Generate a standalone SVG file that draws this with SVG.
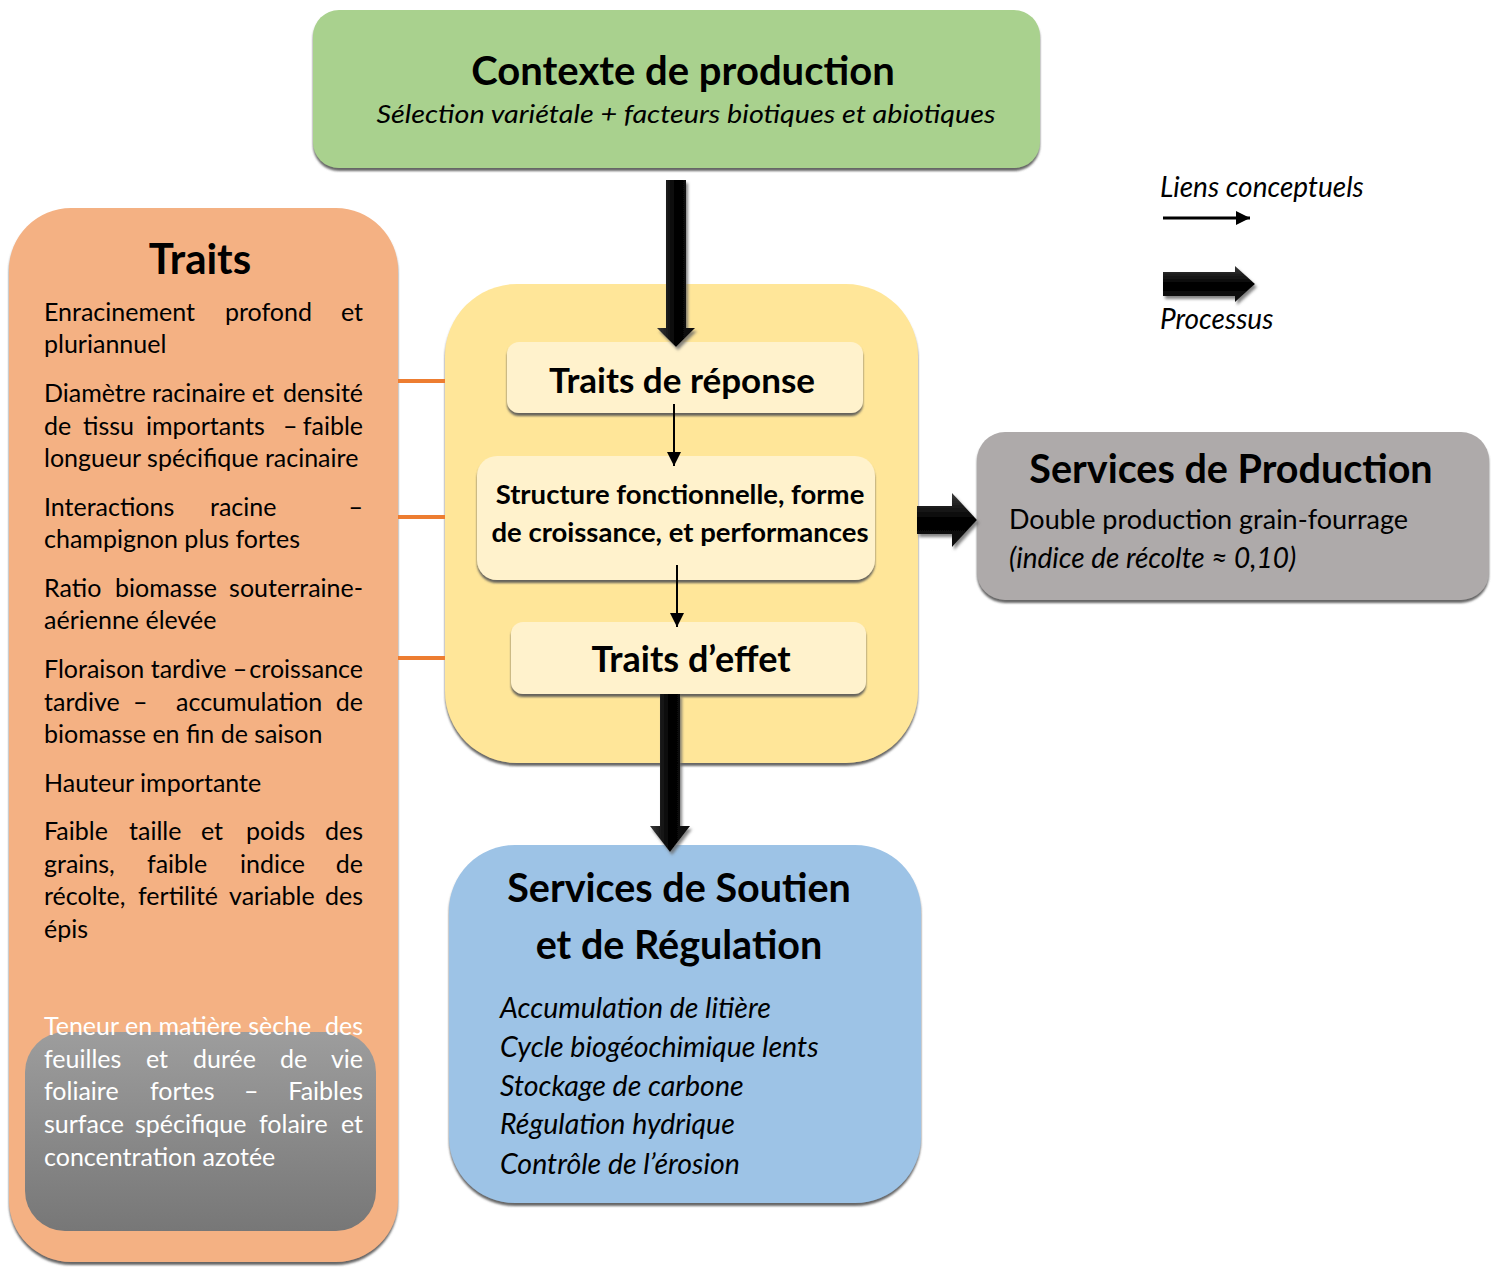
<svg xmlns="http://www.w3.org/2000/svg" width="1498" height="1267" viewBox="0 0 1498 1267">
<defs>
<filter id="sh" x="-10%" y="-10%" width="120%" height="120%">
<feDropShadow dx="0" dy="3" stdDeviation="1.2" flood-color="#555" flood-opacity="0.9"/>
</filter>
<filter id="ash" x="-30%" y="-10%" width="160%" height="130%">
<feDropShadow dx="2" dy="3" stdDeviation="1.5" flood-color="#666" flood-opacity="0.8"/>
</filter>
<linearGradient id="gv" x1="0" y1="0" x2="1" y2="0">
<stop offset="0" stop-color="#3a3a3a"/><stop offset="0.5" stop-color="#000"/><stop offset="1" stop-color="#111"/>
</linearGradient>
<linearGradient id="gh" x1="0" y1="0" x2="0" y2="1">
<stop offset="0" stop-color="#3a3a3a"/><stop offset="0.5" stop-color="#000"/><stop offset="1" stop-color="#111"/>
</linearGradient>
<linearGradient id="gray" x1="0" y1="0" x2="0" y2="1">
<stop offset="0" stop-color="#9d9d9d"/><stop offset="1" stop-color="#777"/>
</linearGradient>
<marker id="ah2" viewBox="0 0 10 10" refX="10" refY="5" markerWidth="14" markerHeight="14" markerUnits="userSpaceOnUse" orient="auto">
<path d="M0,0 L10,5 L0,10 z" fill="#000"/>
</marker>
</defs>
<style>
text{font-family:Lato,"Open Sans","Liberation Sans",sans-serif;fill:#000}
.b{font-weight:bold}
.i{font-style:italic}
.t{font-size:25px}
.w{fill:#fff}
.c{text-anchor:middle}
.e{text-anchor:end}
.inner{fill:#fff2cc}
</style>

<g id="contexte">
<rect x="313" y="10" width="727" height="158" rx="26" fill="#a9d18e" filter="url(#sh)"/>
<text x="683" y="85" class="b c" font-size="40">Contexte de production</text>
<text x="686" y="123" class="i c" font-size="26" textLength="619" lengthAdjust="spacingAndGlyphs">Sélection variétale + facteurs biotiques et abiotiques</text>
</g>

<g id="legende">
<text x="1160" y="197" class="i" font-size="28">Liens conceptuels</text>
<line x1="1163" y1="218" x2="1250" y2="218" stroke="#000" stroke-width="3" marker-end="url(#ah2)"/>
<path d="M1163,272 L1235,272 L1235,266 L1255,284 L1235,302 L1235,296 L1163,296 z" fill="url(#gh)" filter="url(#ash)"/>
<text x="1160" y="329" class="i" font-size="28">Processus</text>
</g>

<g id="traits">
<rect x="9" y="208" width="389" height="1054" rx="62" fill="#f4b183" filter="url(#sh)"/>
<rect x="25" y="1032" width="351" height="199" rx="40" fill="url(#gray)"/>
<text x="200" y="274" class="b c" font-size="42">Traits</text>
<g class="t">
<text y="321"><tspan x="44">Enracinement</tspan><tspan x="225">profond</tspan><tspan x="363" class="e">et</tspan></text>
<text x="44" y="353">pluriannuel</text>
<text y="402"><tspan x="44">Diamètre racinaire et</tspan><tspan x="363" class="e">densité</tspan></text>
<text y="435"><tspan x="44">de</tspan><tspan x="83">tissu</tspan><tspan x="146">importants</tspan><tspan x="283">–</tspan><tspan x="363" class="e">faible</tspan></text>
<text x="44" y="467">longueur spécifique racinaire</text>
<text y="516"><tspan x="44">Interactions</tspan><tspan x="210">racine</tspan><tspan x="363" class="e">–</tspan></text>
<text x="44" y="548">champignon plus fortes</text>
<text y="597"><tspan x="44">Ratio</tspan><tspan x="115">biomasse</tspan><tspan x="363" class="e">souterraine-</tspan></text>
<text x="44" y="629">aérienne élevée</text>
<text y="678"><tspan x="44">Floraison tardive –</tspan><tspan x="363" class="e">croissance</tspan></text>
<text y="711"><tspan x="44">tardive</tspan><tspan x="133">–</tspan><tspan x="176">accumulation</tspan><tspan x="363" class="e">de</tspan></text>
<text x="44" y="743">biomasse en fin de saison</text>
<text x="44" y="792">Hauteur importante</text>
<text y="840"><tspan x="44">Faible</tspan><tspan x="129">taille</tspan><tspan x="201">et</tspan><tspan x="246">poids</tspan><tspan x="363" class="e">des</tspan></text>
<text y="873"><tspan x="44">grains,</tspan><tspan x="147">faible</tspan><tspan x="240">indice</tspan><tspan x="363" class="e">de</tspan></text>
<text y="905"><tspan x="44">récolte,</tspan><tspan x="138">fertilité</tspan><tspan x="229">variable</tspan><tspan x="363" class="e">des</tspan></text>
<text x="44" y="938">épis</text>
<text y="1035" class="w"><tspan x="44">Teneur en matière sèche</tspan><tspan x="363" class="e">des</tspan></text>
<text y="1068" class="w"><tspan x="44">feuilles</tspan><tspan x="146">et</tspan><tspan x="193">durée</tspan><tspan x="280">de</tspan><tspan x="363" class="e">vie</tspan></text>
<text y="1100" class="w"><tspan x="44">foliaire</tspan><tspan x="150">fortes</tspan><tspan x="244">–</tspan><tspan x="363" class="e">Faibles</tspan></text>
<text y="1133" class="w"><tspan x="44">surface</tspan><tspan x="135">spécifique</tspan><tspan x="259">folaire</tspan><tspan x="363" class="e">et</tspan></text>
<text x="44" y="1166" class="w">concentration azotée</text>
</g>
</g>

<g id="traits-centre">
<rect x="445" y="284" width="473" height="479" rx="72" fill="#ffe699" filter="url(#sh)"/>
</g>
<g id="traits-reponse">
<rect x="507" y="342" width="356" height="71" rx="12" class="inner" filter="url(#sh)"/>
<text x="682" y="393" class="b c" font-size="35">Traits de réponse</text>
</g>
<g id="structure">
<rect x="477" y="456" width="398" height="124" rx="20" class="inner" filter="url(#sh)"/>
<text x="680" y="504" class="b c" font-size="27.5">Structure fonctionnelle, forme</text>
<text x="680" y="542" class="b c" font-size="27.5">de croissance, et performances</text>
</g>
<g id="traits-effet">
<rect x="511" y="622" width="355" height="72" rx="12" class="inner" filter="url(#sh)"/>
<text x="691" y="672" class="b c" font-size="36">Traits d’effet</text>
</g>

<g id="services-production">
<rect x="977" y="432" width="512" height="168" rx="28" fill="#aeaaaa" filter="url(#sh)"/>
<text x="1231" y="483" class="b c" font-size="39.5">Services de Production</text>
<text x="1009" y="529" font-size="27">Double production grain-fourrage</text>
<text x="1009" y="568" class="i" font-size="28">(indice de récolte ≈ 0,10)</text>
</g>

<g id="services-soutien">
<rect x="449" y="845" width="472" height="358" rx="66" fill="#9dc3e6" filter="url(#sh)"/>
<text x="679" y="902" class="b c" font-size="39.5">Services de Soutien</text>
<text x="679" y="959" class="b c" font-size="39.5">et de Régulation</text>
<g class="i" font-size="28.5">
<text x="500" y="1018">Accumulation de litière</text>
<text x="500" y="1057">Cycle biogéochimique lents</text>
<text x="500" y="1096">Stockage de carbone</text>
<text x="500" y="1134">Régulation hydrique</text>
<text x="500" y="1174">Contrôle de l’érosion</text>
</g>
</g>

<g id="connecteurs">
<g stroke="#ed7d31" stroke-width="4">
<line x1="398" y1="381" x2="445" y2="381"/>
<line x1="398" y1="517" x2="445" y2="517"/>
<line x1="398" y1="658" x2="445" y2="658"/>
</g>
<line x1="674" y1="404" x2="674" y2="466" stroke="#000" stroke-width="2" marker-end="url(#ah2)"/>
<line x1="677" y1="565" x2="677" y2="627" stroke="#000" stroke-width="2" marker-end="url(#ah2)"/>
<path d="M666,180 L686,180 L686,328 L695,328 L676,347 L657,328 L666,328 z" fill="url(#gv)" filter="url(#ash)"/>
<path d="M660,694 L680,694 L680,826 L690,826 L670,852 L650,826 L660,826 z" fill="url(#gv)" filter="url(#ash)"/>
<path d="M917,506 L952,506 L952,493 L977,520 L952,547 L952,534 L917,534 z" fill="url(#gh)" filter="url(#ash)"/>
</g>
</svg>
